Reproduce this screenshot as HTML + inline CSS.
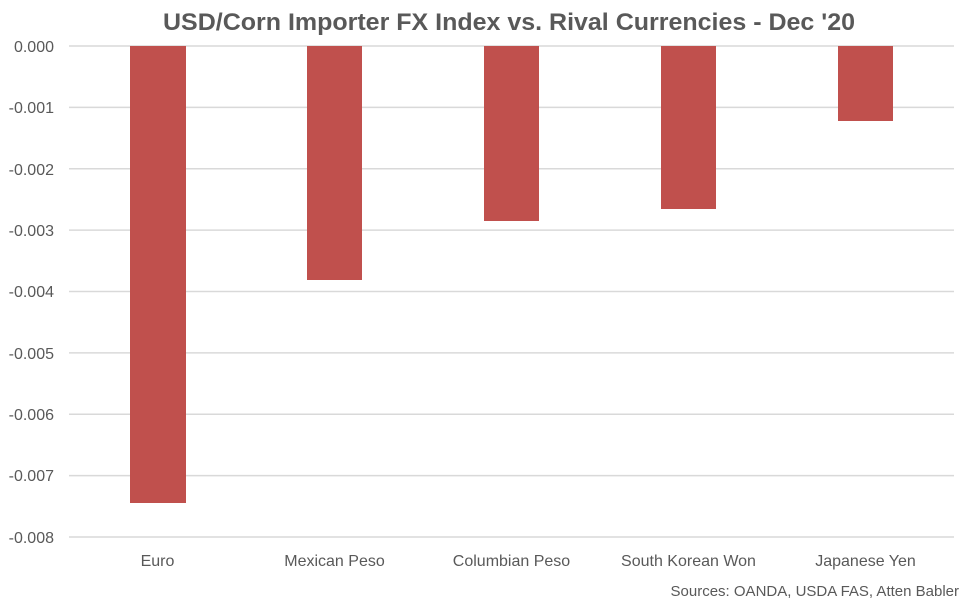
<!DOCTYPE html>
<html><head><style>body{margin:0;background:#fff}svg{display:block}</style></head><body>
<svg width="975" height="601" xmlns="http://www.w3.org/2000/svg" font-family="Liberation Sans, sans-serif">
<rect width="975" height="601" fill="#fff"/>
<text x="163" y="30" textLength="692" lengthAdjust="spacingAndGlyphs" font-size="24" font-weight="bold" fill="#595959">USD/Corn Importer FX Index vs. Rival Currencies - Dec '20</text>
<g stroke="#d9d9d9" stroke-width="1.5">
<line x1="69" x2="954" y1="46" y2="46"/><line x1="69" x2="954" y1="107.4" y2="107.4"/>
<line x1="69" x2="954" y1="168.8" y2="168.8"/><line x1="69" x2="954" y1="230.1" y2="230.1"/>
<line x1="69" x2="954" y1="291.5" y2="291.5"/><line x1="69" x2="954" y1="352.9" y2="352.9"/>
<line x1="69" x2="954" y1="414.3" y2="414.3"/><line x1="69" x2="954" y1="475.6" y2="475.6"/>
<line x1="69" x2="954" y1="537" y2="537"/>
</g>
<g fill="#595959" font-size="16" text-anchor="end">
<text x="54" y="52">0.000</text><text x="54" y="113">-0.001</text><text x="54" y="175">-0.002</text>
<text x="54" y="236">-0.003</text><text x="54" y="297">-0.004</text><text x="54" y="359">-0.005</text>
<text x="54" y="420">-0.006</text><text x="54" y="481">-0.007</text><text x="54" y="543">-0.008</text>
</g>
<g fill="#c0504d">
<rect x="130" y="46" width="56" height="457"/>
<rect x="307" y="46" width="55" height="234"/>
<rect x="484" y="46" width="55" height="175"/>
<rect x="661" y="46" width="55" height="163"/>
<rect x="838" y="46" width="55" height="75"/>
</g>
<g fill="#595959" font-size="16" text-anchor="middle">
<text x="157.5" y="566">Euro</text><text x="334.5" y="566">Mexican Peso</text>
<text x="511.5" y="566">Columbian Peso</text><text x="688.5" y="566">South Korean Won</text>
<text x="865.5" y="566">Japanese Yen</text>
</g>
<text x="959" y="596" text-anchor="end" font-size="15" fill="#595959">Sources: OANDA, USDA FAS, Atten Babler</text>
</svg>
</body></html>
